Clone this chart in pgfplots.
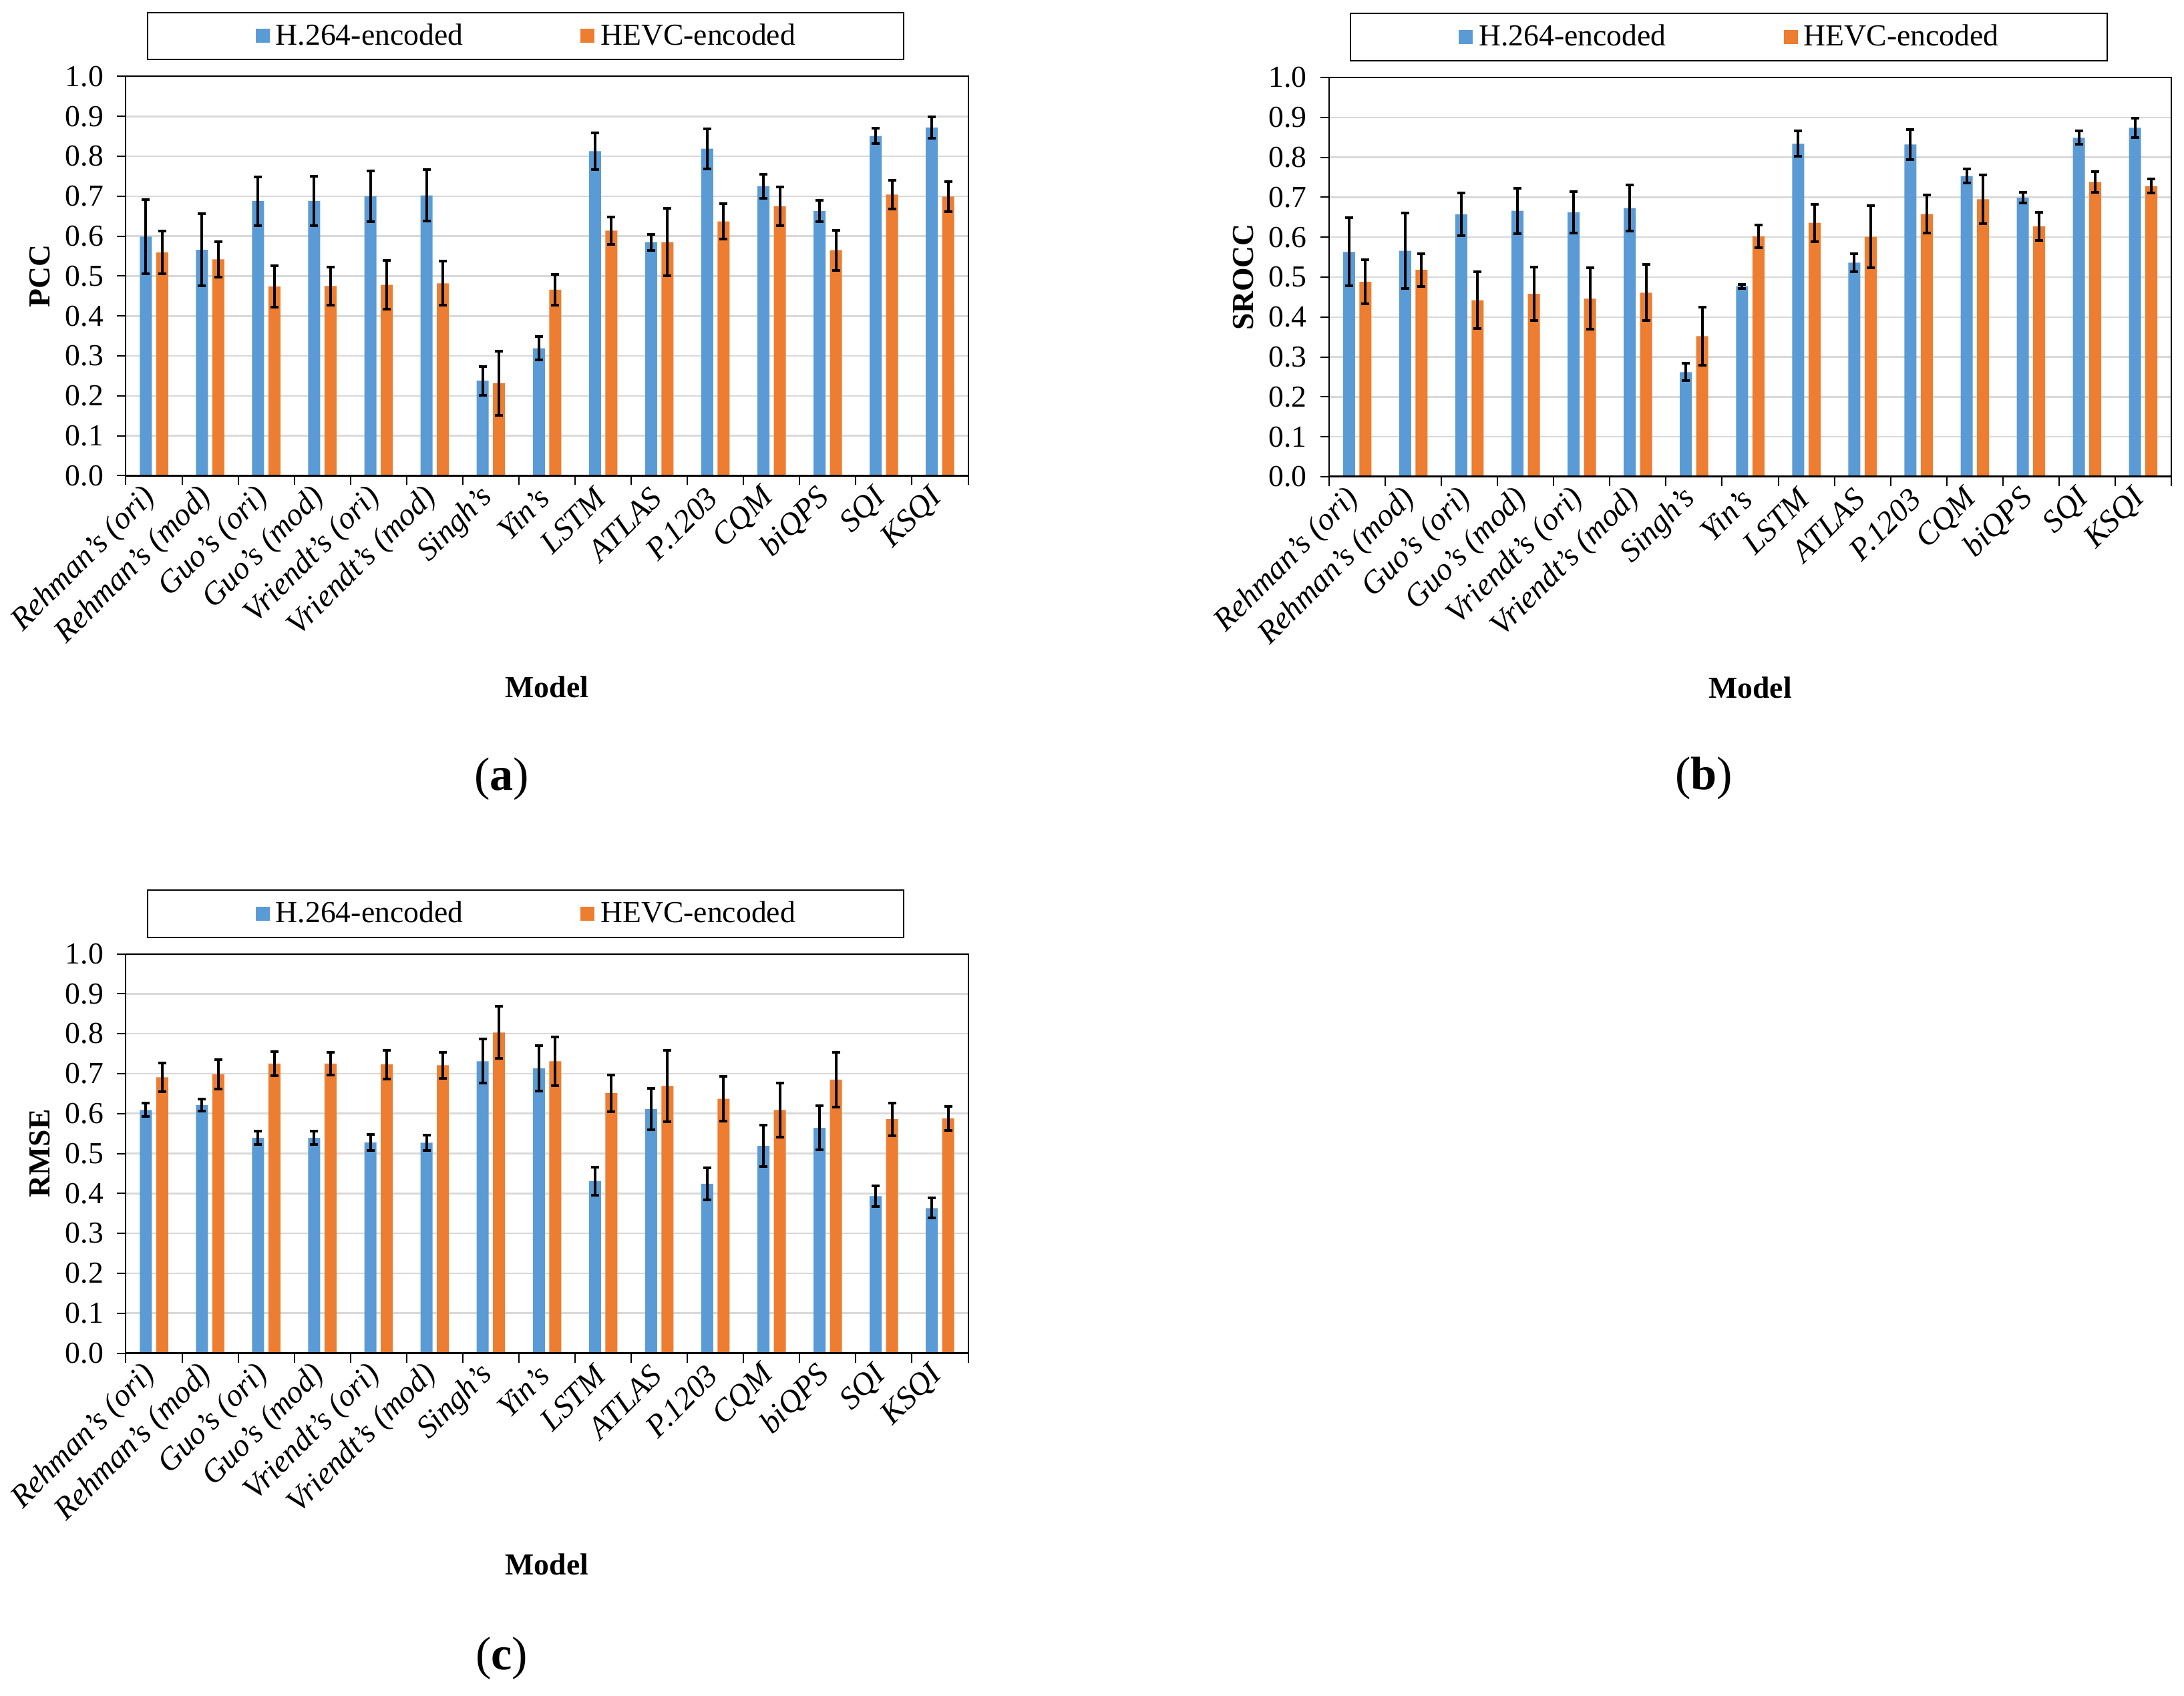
\documentclass[border=0pt]{standalone}
\usepackage{fontspec}
\setmainfont{Liberation Serif}
\usepackage{pgfplots}
\usepackage{pgfplotstable}
\pgfplotsset{compat=1.18}

\definecolor{h264}{HTML}{5B9BD5}
\definecolor{hevc}{HTML}{ED7D31}
\definecolor{gridgray}{HTML}{D9D9D9}

% x a ae b be : H.264 value, H.264 error, HEVC value, HEVC error
\pgfplotstableread{
x a ae b be
0 0.599 0.093 0.559 0.054
1 0.566 0.090 0.542 0.044
2 0.688 0.061 0.474 0.052
3 0.688 0.062 0.475 0.047
4 0.700 0.063 0.478 0.061
5 0.702 0.064 0.482 0.055
6 0.238 0.036 0.232 0.080
7 0.319 0.029 0.466 0.038
8 0.813 0.046 0.614 0.034
9 0.585 0.020 0.585 0.085
10 0.819 0.050 0.637 0.044
11 0.725 0.030 0.675 0.048
12 0.663 0.027 0.565 0.050
13 0.851 0.019 0.704 0.036
14 0.872 0.027 0.699 0.038
}\pcc

\pgfplotstableread{
x a ae b be
0 0.563 0.085 0.488 0.055
1 0.566 0.095 0.518 0.041
2 0.657 0.053 0.442 0.071
3 0.666 0.057 0.458 0.067
4 0.662 0.052 0.446 0.077
5 0.673 0.057 0.461 0.070
6 0.262 0.022 0.352 0.072
7 0.477 0.005 0.602 0.028
8 0.834 0.032 0.636 0.047
9 0.536 0.022 0.601 0.078
10 0.832 0.038 0.658 0.048
11 0.753 0.018 0.695 0.061
12 0.699 0.013 0.627 0.035
13 0.849 0.017 0.738 0.026
14 0.874 0.024 0.728 0.017
}\srocc

\pgfplotstableread{
x a ae b be
0 0.609 0.017 0.691 0.036
1 0.621 0.015 0.698 0.037
2 0.539 0.017 0.725 0.030
3 0.539 0.017 0.725 0.028
4 0.528 0.020 0.723 0.036
5 0.527 0.019 0.721 0.033
6 0.731 0.055 0.803 0.065
7 0.713 0.057 0.731 0.061
8 0.431 0.035 0.651 0.046
9 0.611 0.052 0.669 0.089
10 0.424 0.040 0.637 0.056
11 0.519 0.052 0.609 0.068
12 0.564 0.055 0.685 0.069
13 0.393 0.026 0.586 0.041
14 0.363 0.025 0.588 0.030
}\rmse

\pgfplotsset{
  panel/.style={
    scale only axis, width=126.1mm, height=59.8mm,
    anchor=south west, clip=false,
    ybar=0.65mm, bar width=1.8mm,
    xmin=-0.5, xmax=14.5, ymin=0, ymax=1,
    xtick={0,...,14},
    xticklabels={Rehman's (ori), Rehman's (mod), Guo's (ori), Guo's (mod),
      Vriendt's (ori), Vriendt's (mod), Singh's, Yin's, LSTM, ATLAS,
      P.1203, CQM, biQPS, SQI, KSQI},
    minor xtick={-0.5,0.5,...,14.5},
    ytick={0,0.1,0.2,0.3,0.4,0.5,0.6,0.7,0.8,0.9,1.0},
    tick align=outside, tick pos=left,
    major x tick style={draw=none},
    minor x tick style={line width=0.2mm, black},
    major y tick style={line width=0.2mm, black},
    major tick length=1.3mm, minor tick length=1.4mm,
    axis line style={line width=0.2mm},
    ymajorgrids, grid style={gridgray, line width=0.25mm},
    tick label style={font=\fontsize{13}{15}\selectfont},
    xticklabel style={font=\fontsize{13.5}{15}\selectfont\itshape, rotate=45,
      anchor=east, yshift=-0.6mm},
    yticklabel style={/pgf/number format/.cd, fixed, fixed zerofill, precision=1,
      assume math mode=true, /tikz/xshift=-0.8mm},
    every axis y label/.style={at={(axis description cs:0,0.5)}, xshift=-12.85mm,
      rotate=90, anchor=center, font=\fontsize{13}{15}\selectfont\bfseries},
    every axis x label/.style={at={(axis description cs:0.5,0)}, yshift=-31.6mm,
      anchor=center, font=\fontsize{13}{15}\selectfont\bfseries},
    xlabel={Model},
    legend columns=2,
    legend image code/.code={\fill[#1] (0mm,-1.05mm) rectangle (2.1mm,1.05mm);},
    legend style={at={(0.4746,1)}, anchor=south, yshift=2.4mm,
      draw=black, line width=0.2mm, inner xsep=16.2mm, inner ysep=1.7mm,
      font=\fontsize{13}{15}\selectfont, nodes={inner sep=0pt},
      /tikz/every odd column/.append style={column sep=0.9mm},
      /tikz/every even column/.append style={column sep=17.6mm}},
    error bars/y dir=both, error bars/y explicit,
    error bars/error bar style={line width=0.4mm, black},
    error bars/error mark options={line width=0.4mm, mark size=0.6mm, black, rotate=90},
  },
}

\begin{document}
\begin{tikzpicture}
\useasboundingbox (0,0) rectangle (327mm,253.9mm);

% (a) PCC
\begin{axis}[panel, at={(18.85mm,182.65mm)}, ylabel={PCC}]
\addplot[fill=h264, draw=none] table[x=x, y=a, y error=ae] {\pcc};
\addplot[fill=hevc, draw=none] table[x=x, y=b, y error=be] {\pcc};
\legend{H.264-encoded, HEVC-encoded}
\draw[line width=0.3mm] (rel axis cs:0,0) -- (rel axis cs:1,0);
\end{axis}

% (b) SROCC
\begin{axis}[panel, at={(199.0mm,182.5mm)}, ylabel={SROCC}]
\addplot[fill=h264, draw=none] table[x=x, y=a, y error=ae] {\srocc};
\addplot[fill=hevc, draw=none] table[x=x, y=b, y error=be] {\srocc};
\legend{H.264-encoded, HEVC-encoded}
\draw[line width=0.3mm] (rel axis cs:0,0) -- (rel axis cs:1,0);
\end{axis}

% (c) RMSE
\begin{axis}[panel, at={(18.85mm,51.25mm)}, ylabel={RMSE}]
\addplot[fill=h264, draw=none] table[x=x, y=a, y error=ae] {\rmse};
\addplot[fill=hevc, draw=none] table[x=x, y=b, y error=be] {\rmse};
\legend{H.264-encoded, HEVC-encoded}
\draw[line width=0.3mm] (rel axis cs:0,0) -- (rel axis cs:1,0);
\end{axis}

\node[font=\fontsize{20}{24}\selectfont] at (75.1mm,137.2mm) {(\textbf{a})};
\node[font=\fontsize{20}{24}\selectfont] at (255.1mm,137.3mm) {(\textbf{b})};
\node[font=\fontsize{20}{24}\selectfont] at (75.1mm,5.5mm) {(\textbf{c})};
\end{tikzpicture}
\end{document}
